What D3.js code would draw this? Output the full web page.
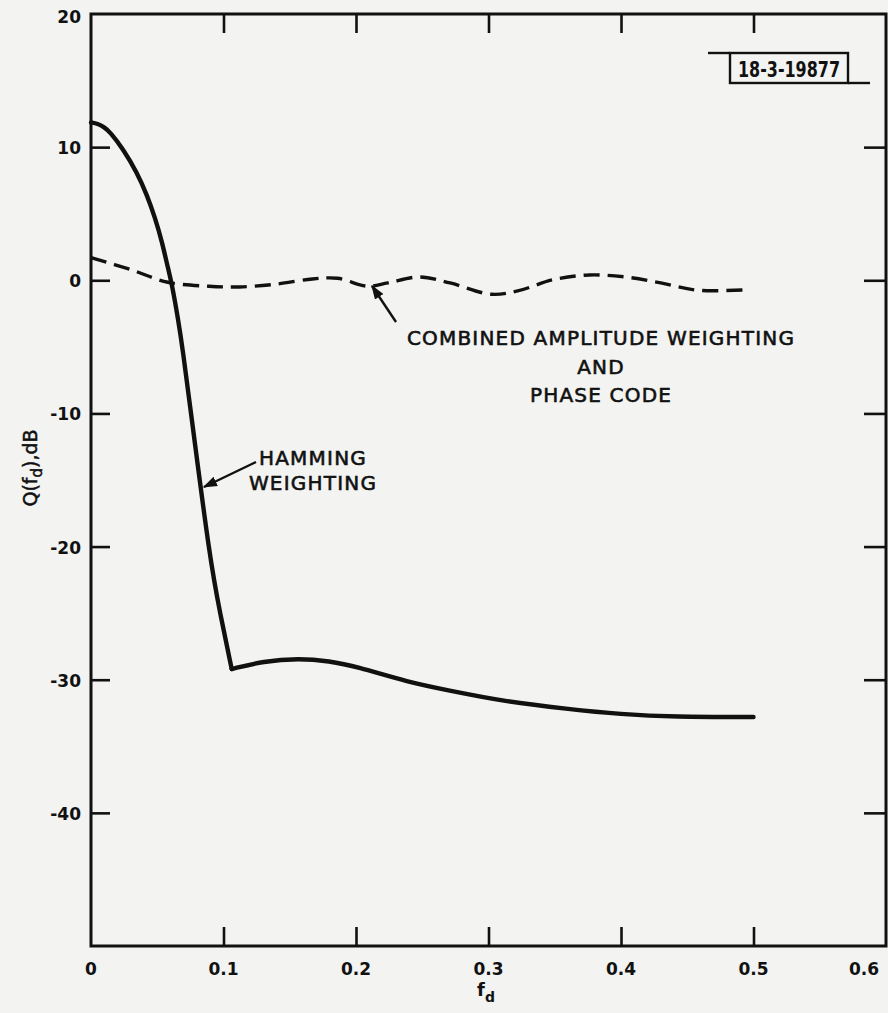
<!DOCTYPE html>
<html>
<head>
<meta charset="utf-8">
<script src="https://cdn.jsdelivr.net/npm/d3@7"></script>
<style>
  body { margin: 0; background: #f3f3f1; }
  svg { display: block; }
  text { font-family: "DejaVu Sans", sans-serif; fill: #111; }
</style>
</head>
<body>
<script>
// Datos
const fdHamming = [0, 0.005, 0.01, 0.0143, 0.024, 0.0347, 0.0423, 0.0483, 0.0536, 0.0581, 0.0611, 0.0657, 0.0694,
                   0.0755, 0.0898, 0.0974, 0.1062,
                   0.13, 0.157, 0.18, 0.2, 0.24, 0.27, 0.31, 0.36, 0.4, 0.44, 0.5];
const qHamming = [11.85, 11.77, 11.5, 11.15, 9.9, 8.1, 6.4, 4.7, 2.9, 0.9, -0.3, -2.9, -5.3,
                  -10, -21, -25, -29.2,
                  -28.6, -28.4, -28.6, -29.0, -30.2, -30.8, -31.6, -32.2, -32.6, -32.8, -32.8];
const hammingCorner = 0.1062; // vértice donde termina la caída

const fdCombined = [0, 0.030, 0.058, 0.089, 0.112, 0.139, 0.167, 0.186, 0.209, 0.224, 0.248, 0.271,
                    0.302, 0.322, 0.349, 0.376, 0.403, 0.430, 0.458, 0.497];
const qCombined = [1.7, 0.8, -0.15, -0.45, -0.5, -0.3, 0.1, 0.15, -0.45, -0.2, 0.25, -0.2,
                   -1.05, -0.8, 0.05, 0.4, 0.25, -0.2, -0.75, -0.7];

const xTicks = [0, 0.1, 0.2, 0.3, 0.4, 0.5, 0.6];
const xTickLabels = ["0", "0.1", "0.2", "0.3", "0.4", "0.5", "0.6"];
const yTicks = [20, 10, 0, -10, -20, -30, -40];
const yTickLabels = ["20", "10", "0", "-10", "-20", "-30", "-40"];

const width = 888;
const height = 1013;
const mLeft = 91, mRight = 886, mTop = 14, mBottom = 946;

const x = d3.scaleLinear().domain([0, 0.6]).range([mLeft, mRight]);
const y = d3.scaleLinear().domain([-50, 20]).range([mBottom, mTop]);

const svg = d3.select("body").append("svg")
    .attr("width", width)
    .attr("height", height);

// Marco del gráfico
svg.append("rect")
    .attr("x", mLeft).attr("y", mTop)
    .attr("width", mRight - mLeft).attr("height", mBottom - mTop)
    .attr("fill", "none").attr("stroke", "#111").attr("stroke-width", 3);

// Marcas interiores (todas hacia dentro)
const tick = 19;
svg.append("g").call(d3.axisBottom(x).tickValues(xTicks.slice(1, -1)).tickSize(-tick).tickFormat(""))
    .attr("transform", `translate(0,${mBottom})`);
svg.append("g").call(d3.axisTop(x).tickValues(xTicks.slice(1, -1)).tickSize(-tick).tickFormat(""))
    .attr("transform", `translate(0,${mTop})`);
svg.append("g").call(d3.axisLeft(y).tickValues(yTicks.slice(1)).tickSize(-tick).tickFormat(""))
    .attr("transform", `translate(${mLeft},0)`);
svg.append("g").call(d3.axisRight(y).tickValues(yTicks.slice(1)).tickSize(-tick - 3).tickFormat(""))
    .attr("transform", `translate(${mRight},0)`);
svg.selectAll(".domain").remove();
svg.selectAll(".tick line").attr("stroke", "#111").attr("stroke-width", 2.6);

// Etiquetas de los ejes
svg.selectAll(".xlab")
    .data(xTicks)
    .join("text")
    .attr("x", d => x(d) + (d === 0.6 ? -22 : 0))
    .attr("y", 975)
    .attr("text-anchor", "middle")
    .attr("font-size", 17)
    .attr("font-weight", "bold")
    .text((d, i) => xTickLabels[i]);

svg.selectAll(".ylab")
    .data(yTicks)
    .join("text")
    .attr("x", 81)
    .attr("y", d => y(d) + 7 + (d === 20 ? 2 : 0))
    .attr("text-anchor", "end")
    .attr("font-size", 17)
    .attr("font-weight", "bold")
    .text((d, i) => yTickLabels[i]);

// Título del eje X: f con subíndice d
const xt = svg.append("text")
    .attr("x", 486).attr("y", 996)
    .attr("text-anchor", "middle")
    .attr("font-size", 18)
    .attr("font-weight", "bold");
xt.append("tspan").text("f");
xt.append("tspan").attr("dy", 6).attr("font-size", 14).text("d");

// Título del eje Y
const yt = svg.append("text")
    .attr("transform", "translate(37,468) rotate(-90)")
    .attr("text-anchor", "middle")
    .attr("font-size", 19)
    .attr("stroke", "#111")
    .attr("stroke-width", 0.5);
yt.append("tspan").text("Q(f");
yt.append("tspan").attr("dy", 5).attr("font-size", 15).text("d");
yt.append("tspan").attr("dy", -5).text("),dB");

// Curvas
const line = d3.line()
    .x(d => x(d[0]))
    .y(d => y(d[1]))
    .curve(d3.curveCatmullRom.alpha(0.5));

const smooth = d3.line()
    .x(d => x(d[0]))
    .y(d => y(d[1]))
    .curve(d3.curveBasis);

// La curva de Hamming tiene un vértice: se traza en dos tramos para no redondearlo
const hamming = d3.zip(fdHamming, qHamming);
const iCorner = fdHamming.indexOf(hammingCorner);
[hamming.slice(0, iCorner + 1), hamming.slice(iCorner)].forEach(seg => {
    svg.append("path")
        .datum(seg)
        .attr("d", smooth)
        .attr("fill", "none")
        .attr("stroke", "#111")
        .attr("stroke-width", 4.4)
        .attr("stroke-linecap", "round");
});

svg.append("path")
    .datum(d3.zip(fdCombined, qCombined))
    .attr("d", line)
    .attr("fill", "none")
    .attr("stroke", "#111")
    .attr("stroke-width", 3.4)
    .attr("stroke-dasharray", "16,8");

// Flechas de anotación
svg.append("defs").append("marker")
    .attr("id", "arrow")
    .attr("viewBox", "0 0 10 10")
    .attr("refX", 9).attr("refY", 5)
    .attr("markerWidth", 6).attr("markerHeight", 6)
    .attr("markerUnits", "strokeWidth")
    .attr("orient", "auto")
    .append("path")
    .attr("d", "M0,1.5 L10,5 L0,8.5 Z")
    .attr("fill", "#111");

function arrow(x1, y1, x2, y2) {
    svg.append("line")
        .attr("x1", x1).attr("y1", y1).attr("x2", x2).attr("y2", y2)
        .attr("stroke", "#111").attr("stroke-width", 2.4)
        .attr("marker-end", "url(#arrow)");
}
arrow(396, 322, 372, 286);
arrow(256, 462, 204, 487);

// Textos de anotación
function label(lines, cx, y0, dy) {
    lines.forEach((t, i) => {
        svg.append("text")
            .attr("x", cx).attr("y", y0 + i * dy)
            .attr("text-anchor", "middle")
            .attr("font-size", 20)
            .attr("letter-spacing", 1.2)
            .attr("stroke", "#111")
            .attr("stroke-width", 0.6)
            .text(t);
    });
}
label(["COMBINED AMPLITUDE WEIGHTING", "AND", "PHASE CODE"], 601, 345, 28.5);
label(["HAMMING", "WEIGHTING"], 313, 465, 25);

// Sello con el número de figura
svg.append("rect")
    .attr("x", 730).attr("y", 53).attr("width", 118).attr("height", 30)
    .attr("fill", "none").attr("stroke", "#111").attr("stroke-width", 2.4);
svg.append("line").attr("x1", 708).attr("y1", 53).attr("x2", 730).attr("y2", 53)
    .attr("stroke", "#111").attr("stroke-width", 2.4);
svg.append("line").attr("x1", 848).attr("y1", 83).attr("x2", 870).attr("y2", 83)
    .attr("stroke", "#111").attr("stroke-width", 2.4);
svg.append("text")
    .attr("x", 738).attr("y", 77)
    .attr("font-family", "'Liberation Sans Narrow', 'DejaVu Sans Condensed', sans-serif")
    .attr("font-weight", "bold")
    .attr("font-size", 22)
    .attr("textLength", 102)
    .attr("lengthAdjust", "spacingAndGlyphs")
    .text("18-3-19877");
</script>
</body>
</html>
